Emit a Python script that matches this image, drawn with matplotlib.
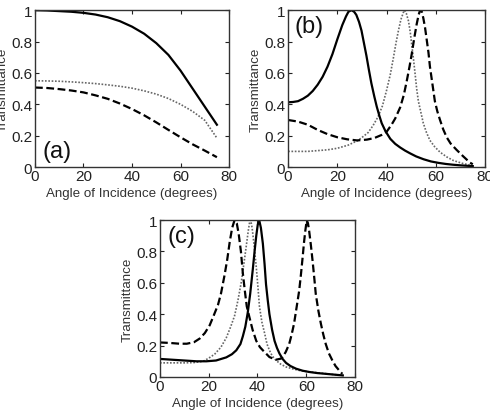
import matplotlib
matplotlib.use("Agg")
import matplotlib.pyplot as plt

plt.rcParams['font.family'] = ['Liberation Sans', 'DejaVu Sans']

# ---- Panel (a) ----
a_solid_x = [0, 5, 10, 15, 20, 25, 30, 35, 40, 45, 50, 55, 60, 65, 70, 75]
a_solid_y = [1.0, 0.998, 0.994, 0.99, 0.983, 0.972, 0.955, 0.93, 0.895, 0.85, 0.79, 0.715, 0.615, 0.5, 0.385, 0.27]
a_dot_x = [0, 5, 10, 15, 20, 25, 30, 35, 40, 45, 50, 55, 60, 65, 70, 75]
a_dot_y = [0.55, 0.549, 0.547, 0.543, 0.538, 0.532, 0.524, 0.515, 0.503, 0.486, 0.465, 0.437, 0.40, 0.355, 0.298, 0.185]
a_dash_x = [0, 5, 10, 15, 20, 25, 30, 35, 40, 45, 50, 55, 60, 65, 70, 75]
a_dash_y = [0.507, 0.504, 0.497, 0.488, 0.476, 0.457, 0.435, 0.405, 0.37, 0.33, 0.285, 0.237, 0.19, 0.145, 0.105, 0.063]

# ---- Panel (b) ----
b_solid_x = [0, 2, 4, 6, 8, 10, 12, 14, 16, 18, 20, 22, 23.5, 24.5, 25.7, 26.8, 27.7, 28.8, 29.8, 30.8, 31.8,
             32.8, 33.8, 35, 36, 37, 38, 39.5, 41.5, 43.5, 45.5, 47.5, 49.6, 52, 55, 58, 61, 64, 67, 70, 73, 75]
b_solid_y = [0.413, 0.415, 0.42, 0.435, 0.455, 0.485, 0.525, 0.575, 0.64, 0.72, 0.815, 0.905, 0.96, 0.99, 1.0, 0.99,
             0.97, 0.925, 0.87, 0.79, 0.71, 0.62, 0.535, 0.45, 0.385, 0.33, 0.28, 0.23, 0.18, 0.148, 0.125, 0.105,
             0.087, 0.068, 0.05, 0.036, 0.027, 0.02, 0.015, 0.011, 0.008, 0.006]
b_dot_x = [0, 8, 16, 20, 24.4, 28.4, 30.5, 32.5, 34.5, 36.5, 38.3, 40, 41.5, 42.8, 43.8, 44.8, 45.8, 46.8, 47.3,
           48, 48.9, 49.6, 50.2, 50.9, 51.6, 52.2, 52.9, 53.9, 54.9, 56.2, 57.6, 59.5, 61.7, 64.4, 67.1, 70.5, 73.9, 75]
b_dot_y = [0.10, 0.10, 0.11, 0.12, 0.14, 0.17, 0.195, 0.22, 0.265, 0.32, 0.39, 0.49, 0.59, 0.70, 0.79, 0.87, 0.94,
           0.985, 1.0, 0.98, 0.93, 0.86, 0.78, 0.69, 0.59, 0.50, 0.42, 0.35, 0.28, 0.22, 0.17, 0.13, 0.095, 0.065,
           0.042, 0.025, 0.012, 0.008]
b_dash_x = [0, 4, 8, 12, 16, 20, 24, 28, 32, 35, 38, 40, 42, 43.5, 45.5, 47, 48.2, 49.3, 50.2, 51.2, 52.2, 53,
            53.6, 54.3, 54.9, 55.6, 56.3, 57, 57.6, 58.6, 59.6, 60.6, 61.7, 63, 64.4, 66, 68.4, 71, 73.9, 75]
b_dash_y = [0.30, 0.29, 0.27, 0.237, 0.21, 0.19, 0.177, 0.17, 0.175, 0.185, 0.205, 0.225, 0.27, 0.31, 0.38, 0.46,
            0.55, 0.64, 0.72, 0.82, 0.91, 0.97, 1.0, 0.99, 0.95, 0.89, 0.81, 0.73, 0.64, 0.53, 0.42, 0.355, 0.30,
            0.24, 0.19, 0.15, 0.11, 0.07, 0.028, 0.018]

# ---- Panel (c) ----
c_solid_x = [0, 5, 10, 15, 19, 23, 27.2, 29.5, 31.3, 33, 34, 35, 36, 37, 38.1, 38.8, 39.5, 40.1, 40.7, 41.4,
             42.2, 42.9, 43.5, 44.2, 44.9, 46, 47, 48, 49, 50.3, 51.7, 53.5, 55.8, 58.5, 61.2, 64.5, 68, 71.5, 75]
c_solid_y = [0.115, 0.11, 0.105, 0.10, 0.10, 0.105, 0.125, 0.145, 0.17, 0.21, 0.26, 0.32, 0.41, 0.53, 0.69, 0.80,
             0.90, 0.97, 1.0, 0.95, 0.85, 0.72, 0.59, 0.49, 0.40, 0.30, 0.23, 0.185, 0.15, 0.115, 0.09, 0.07,
             0.053, 0.04, 0.032, 0.025, 0.02, 0.015, 0.01]
c_dot_x = [0, 5, 10, 14, 17.7, 20, 22.4, 25, 27.2, 29, 30.6, 32, 33.3, 34.4, 35.4, 36.2, 36.7, 37.2, 37.8, 38.6,
           39.5, 40.2, 40.8, 41.8, 42.9, 43.9, 44.9, 46, 47.6, 49.5, 51.7, 54.3, 57.1, 60.5, 63.9, 67.5, 71, 75]
c_dot_y = [0.09, 0.09, 0.09, 0.092, 0.10, 0.12, 0.145, 0.19, 0.25, 0.32, 0.39, 0.49, 0.60, 0.72, 0.835, 0.93, 0.98,
           1.0, 0.95, 0.84, 0.70, 0.57, 0.45, 0.35, 0.28, 0.21, 0.17, 0.135, 0.106, 0.082, 0.064, 0.052, 0.042,
           0.034, 0.028, 0.022, 0.016, 0.01]
c_dash_x = [0, 4, 8, 11, 14, 16.3, 18.4, 20.4, 22, 23.8, 25, 26.5, 27.6, 28.6, 29.6, 30.6, 31.5, 32.3, 33.2, 34,
            34.8, 35.6, 36.7, 38, 39.5, 41, 42.2, 44.9, 47.6, 49.6, 50.3, 51.6, 53, 54, 55, 56, 57.1, 57.8, 58.5,
            59.1, 59.6, 60.2, 60.7, 61.2, 61.9, 62.6, 63.3, 63.9, 65, 66, 67, 68, 69.3, 70.7, 72, 73.5, 74.8]
c_dash_y = [0.22, 0.217, 0.212, 0.212, 0.222, 0.245, 0.28, 0.33, 0.39, 0.46, 0.53, 0.65, 0.75, 0.86, 0.95, 1.0,
            0.98, 0.91, 0.80, 0.66, 0.55, 0.45, 0.38, 0.30, 0.23, 0.19, 0.17, 0.127, 0.11, 0.117, 0.127, 0.16,
            0.21, 0.27, 0.34, 0.44, 0.55, 0.65, 0.76, 0.86, 0.93, 1.0, 0.98, 0.93, 0.84, 0.74, 0.63, 0.53, 0.42,
            0.34, 0.27, 0.21, 0.15, 0.106, 0.07, 0.042, 0.02]

xticks = [0, 20, 40, 60, 80]
yticks = [0, 0.2, 0.4, 0.6, 0.8, 1]
yticklabels = ['0', '0.2', '0.4', '0.6', '0.8', '1']
xlabel = 'Angle of Incidence (degrees)'
ylabel = 'Transmittance'

fig = plt.figure(figsize=(4.9, 4.14), dpi=100)
ax_a = fig.add_axes([0.0714, 0.594, 0.396, 0.379])
ax_b = fig.add_axes([0.588, 0.594, 0.402, 0.379])
ax_c = fig.add_axes([0.3265, 0.087, 0.398, 0.379])

tc = '#222222'

def style(ax, label, lx, ly):
    ax.set_xlim(0, 80)
    ax.set_ylim(0, 1)
    ax.set_xticks(xticks)
    ax.set_yticks(yticks)
    ax.set_yticklabels(yticklabels)
    ax.tick_params(direction='in', length=3, width=0.8, top=True, right=True,
                   labelsize=11, colors=tc, pad=2, labelcolor=tc)
    ax.tick_params(axis='x', pad=1.5)
    for s in ax.spines.values():
        s.set_linewidth(1.0)
        s.set_color('#333333')
    ax.set_xlabel(xlabel, fontsize=9.6, color='#333333', labelpad=3)
    ax.set_ylabel(ylabel, fontsize=9.6, color='#333333', labelpad=2)
    ax.text(lx, ly, label, fontsize=17, color='#111111', transform=ax.transData,
            ha='left', va='center')

def draw(ax, sx, sy, dx, dy, ex, ey):
    ax.plot(dx, dy, color='#666666', lw=1.2, linestyle=(0, (1, 1)))
    ax.plot(ex, ey, color='black', lw=1.6, linestyle=(0, (3.5, 1.6)))
    ax.plot(sx, sy, color='black', lw=1.6, solid_joinstyle='round')

draw(ax_a, a_solid_x, a_solid_y, a_dot_x, a_dot_y, a_dash_x, a_dash_y)
draw(ax_b, b_solid_x, b_solid_y, b_dot_x, b_dot_y, b_dash_x, b_dash_y)
draw(ax_c, c_solid_x, c_solid_y, c_dot_x, c_dot_y, c_dash_x, c_dash_y)

style(ax_a, '(a)', 3.0, 0.10)
style(ax_b, '(b)', 2.5, 0.90)
style(ax_c, '(c)', 3.0, 0.90)

fig.savefig('out.png', dpi=100)
